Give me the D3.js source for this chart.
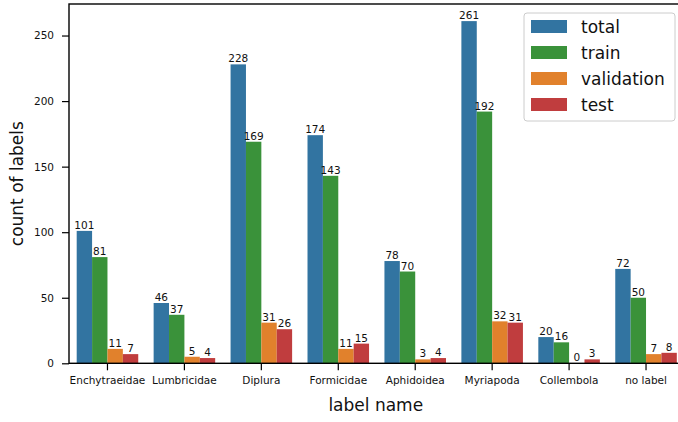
<!DOCTYPE html>
<html>
<head>
<meta charset="utf-8">
<script src="https://cdn.jsdelivr.net/npm/d3@7"></script>
<style>
body { margin: 0; background: #fff; }
svg { font-family: "DejaVu Sans", sans-serif; }
</style>
</head>
<body>
<svg width="678" height="422"></svg>
<script>
let categories = ["Enchytraeidae", "Lumbricidae", "Diplura", "Formicidae", "Aphidoidea", "Myriapoda", "Collembola", "no label"];
let series = ["total", "train", "validation", "test"];
let total = [101, 46, 228, 174, 78, 261, 20, 72];
let train = [81, 37, 169, 143, 70, 192, 16, 50];
let validation = [11, 5, 31, 11, 3, 32, 0, 7];
let test = [7, 4, 26, 15, 4, 31, 3, 8];
let yTicks = [0, 50, 100, 150, 200, 250];
let colors = ["#3274a1", "#3a923a", "#e1812c", "#c03d3e"];

let values = {total: total, train: train, validation: validation, test: test};

let pLeft = 69, pRight = 684.5, pTop = 4, pBottom = 363.3;
let svg = d3.select("svg");

let x = d3.scaleBand().domain(categories).range([pLeft, pRight]).padding(0);
let bw = x.bandwidth();
let xs = d3.scaleBand().domain(series).range([0.1 * bw, 0.9 * bw]).padding(0);
let y = d3.scaleLinear().domain([0, d3.max(total) * 1.05]).range([pBottom, pTop]);
let color = d3.scaleOrdinal().domain(series).range(colors);

// bars
let rows = [];
categories.forEach(function(c, i){
	series.forEach(function(s){
		rows.push({cat: c, ser: s, v: values[s][i]});
	});
});

svg.append("g").selectAll("rect")
	.data(rows).enter().append("rect")
	.attr("x", function(d){ return x(d.cat) + xs(d.ser); })
	.attr("width", xs.bandwidth())
	.attr("y", function(d){ return y(d.v); })
	.attr("height", function(d){ return pBottom - y(d.v); })
	.attr("fill", function(d){ return color(d.ser); });

svg.append("g").selectAll("text")
	.data(rows).enter().append("text")
	.attr("x", function(d){ return x(d.cat) + xs(d.ser) + xs.bandwidth() / 2; })
	.attr("y", function(d){ return y(d.v) - 2; })
	.attr("text-anchor", "middle")
	.attr("font-size", 10.5)
	.attr("fill", "#111")
	.text(function(d){ return d.v; });

// axes
let yAxis = svg.append("g").attr("transform", "translate(" + pLeft + ",0)")
	.call(d3.axisLeft(y).tickValues(yTicks).tickSize(7).tickPadding(8).tickSizeOuter(0));
yAxis.select(".domain").remove();
yAxis.selectAll("line").attr("stroke-width", 1.2);
yAxis.selectAll("text").attr("font-size", 10.5).attr("font-family", "DejaVu Sans").attr("fill", "#111");

let xAxis = svg.append("g").attr("transform", "translate(0," + pBottom + ")")
	.call(d3.axisBottom(x).tickSize(7).tickPadding(6).tickSizeOuter(0));
xAxis.select(".domain").remove();
xAxis.selectAll("line").attr("stroke-width", 1.2);
xAxis.selectAll("text").attr("font-size", 10.5).attr("font-family", "DejaVu Sans").attr("fill", "#111");

// spines
svg.append("rect").attr("x", pLeft).attr("y", pTop).attr("width", pRight - pLeft).attr("height", pBottom - pTop)
	.attr("fill", "none").attr("stroke", "#000").attr("stroke-width", 1.4);

// axis labels
svg.append("text").attr("x", (pLeft + pRight) / 2 - 1).attr("y", 411)
	.attr("text-anchor", "middle").attr("font-size", 17).attr("fill", "#111").text("label name");
svg.append("text").attr("transform", "translate(23," + (pTop + pBottom) / 2 + ") rotate(-90)")
	.attr("text-anchor", "middle").attr("font-size", 17).attr("fill", "#111").text("count of labels");

// legend
let lg = svg.append("g").attr("transform", "translate(524,13)");
lg.append("rect").attr("width", 151).attr("height", 108).attr("rx", 3)
	.attr("fill", "#fff").attr("fill-opacity", 0.8).attr("stroke", "#cccccc");
series.forEach(function(s, i){
	lg.append("rect").attr("x", 7).attr("y", 7 + i * 26).attr("width", 36).attr("height", 13).attr("fill", color(s));
	lg.append("text").attr("x", 57).attr("y", 19.5 + i * 26).attr("font-size", 17).attr("fill", "#111").text(s);
});
</script>
</body>
</html>
